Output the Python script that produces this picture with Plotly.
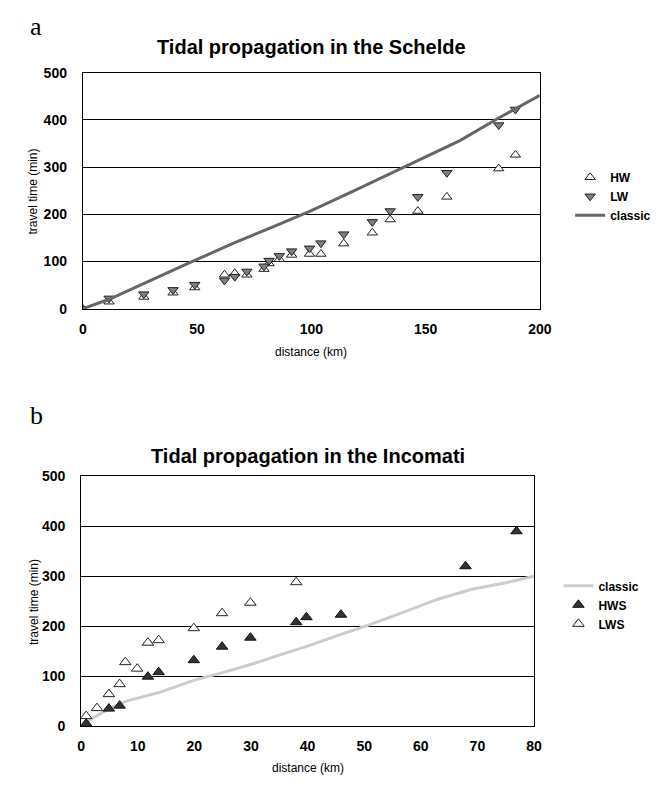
import plotly.graph_objects as go

# ---- Schelde (a) ----
sch_dist = [0, 11.5, 26.7, 39.5, 49, 62, 66.5, 71.8, 79.3, 81.5, 86, 91.4, 99.2, 104.2, 114.2, 126.7, 134.5, 146.6, 159.3, 182, 189.3]
sch_hw = [0, 15, 25, 34, 45, 72, 75, 72, 84, 96, 105, 114, 116, 116, 138, 161, 189, 207, 237, 297, 326]
sch_lw = [0, 22, 31, 40, 51, 60, 68, 79, 90, 102, 112, 122, 128, 139, 158, 184, 207, 237, 288, 389, 422]
sch_classic_dist = [0, 12, 47, 66, 85, 100, 120, 140, 152, 165, 182, 200]
sch_classic = [0, 21, 98, 139, 177, 208, 253, 298, 326, 356, 404, 452]

# ---- Incomati (b) ----
inc_lws_dist = [0.9, 2.8, 4.9, 6.8, 7.8, 9.9, 11.8, 13.7, 19.9, 24.9, 29.9, 38]
inc_lws = [20, 36, 64, 84, 128, 115, 167, 172, 196, 226, 247, 288]
inc_hws_dist = [0.9, 4.9, 6.8, 11.8, 13.7, 19.9, 24.9, 29.9, 38, 39.8, 45.9, 67.9, 76.9]
inc_hws = [5, 35, 41, 99, 108, 132, 159, 177, 208, 218, 223, 320, 390]
inc_classic_dist = [0, 2.5, 5, 8, 14, 20, 25, 31, 35, 40, 45, 51, 57, 63, 69, 75, 80]
inc_classic = [0, 19, 35, 50, 68, 92, 107, 127, 142, 160, 180, 203, 228, 254, 274, 287, 300]

W, H = 669, 788
def px(x): return x / W
def py(y): return 1 - y / H

FONT = "Liberation Sans, Arial, sans-serif"

fig = go.Figure()

fig.add_trace(go.Scatter(x=sch_dist, y=sch_hw, mode="markers", name="HW",
    marker=dict(symbol="triangle-up", size=9, color="white", line=dict(color="#222", width=1)),
    xaxis="x", yaxis="y", legend="legend"))
fig.add_trace(go.Scatter(x=sch_dist, y=sch_lw, mode="markers", name="LW",
    marker=dict(symbol="triangle-down", size=9, color="#7f7f7f", line=dict(color="#222", width=1)),
    xaxis="x", yaxis="y", legend="legend"))
fig.add_trace(go.Scatter(x=sch_classic_dist, y=sch_classic, mode="lines", name="classic",
    line=dict(color="#666666", width=3),
    xaxis="x", yaxis="y", legend="legend"))

fig.add_trace(go.Scatter(x=inc_classic_dist, y=inc_classic, mode="lines", name="classic",
    line=dict(color="#cccccc", width=3),
    xaxis="x2", yaxis="y2", legend="legend2"))
fig.add_trace(go.Scatter(x=inc_hws_dist, y=inc_hws, mode="markers", name="HWS",
    marker=dict(symbol="triangle-up", size=10, color="#333333", line=dict(color="#111", width=1)),
    xaxis="x2", yaxis="y2", legend="legend2"))
fig.add_trace(go.Scatter(x=inc_lws_dist, y=inc_lws, mode="markers", name="LWS",
    marker=dict(symbol="triangle-up", size=10, color="white", line=dict(color="#222", width=1)),
    xaxis="x2", yaxis="y2", legend="legend2"))

tickfont = dict(family=FONT, size=14, color="black", weight="bold")
common_x = dict(showgrid=False, zeroline=False, showline=True, linecolor="black", linewidth=1,
                mirror=True, ticks="", tickfont=tickfont, ticklabelstandoff=7)
common_y = dict(showgrid=True, gridcolor="black", gridwidth=1, zeroline=False, showline=True,
                linecolor="black", linewidth=1, mirror=True, ticks="", tickfont=tickfont,
                ticklabelstandoff=12, range=[0, 500], dtick=100, tick0=0)

fig.update_layout(
    width=W, height=H, margin=dict(l=0, r=0, t=0, b=0),
    paper_bgcolor="white", plot_bgcolor="white",
    font=dict(family=FONT, color="black"),
    xaxis=dict(common_x, domain=[px(80.7), px(549)], range=[0, 200], dtick=50, anchor="y"),
    yaxis=dict(common_y, domain=[py(307), py(66)], anchor="x"),
    xaxis2=dict(common_x, domain=[px(79), px(543)], range=[0, 80], dtick=10, anchor="y2"),
    yaxis2=dict(common_y, domain=[py(733), py(478)], anchor="x2"),
    legend=dict(x=px(580), y=py(158), xanchor="left", yanchor="top", bgcolor="rgba(0,0,0,0)",
                font=dict(family=FONT, size=12, weight="bold"), tracegroupgap=0, itemwidth=30),
    legend2=dict(x=px(568), y=py(575), xanchor="left", yanchor="top", bgcolor="rgba(0,0,0,0)",
                 font=dict(family=FONT, size=12, weight="bold"), tracegroupgap=0, itemwidth=30),
    showlegend=True,
)

def a(text, x, y, size, family=FONT, angle=0):
    return dict(text=text, x=px(x), y=py(y), xref="paper", yref="paper", showarrow=False,
                xanchor="center", yanchor="middle", textangle=angle,
                font=dict(family=family, size=size, color="black"))

SERIF = "Liberation Serif, Times New Roman, serif"
ann = [
    a("a", 33, 19, 26, SERIF),
    a("<b>Tidal propagation in the Schelde</b>", 315, 40, 20),
    a("travel time (min)", 30, 187, 12, angle=-90),
    a("distance (km)", 315, 351, 12),
    a("b", 33, 416, 26, SERIF),
    a("<b>Tidal propagation in the Incomati</b>", 311, 457, 20),
    a("travel time (min)", 30, 606, 12, angle=-90),
    a("distance (km)", 311, 776, 12),
]
fig.update_layout(annotations=ann)

fig.write_html("out.html")
